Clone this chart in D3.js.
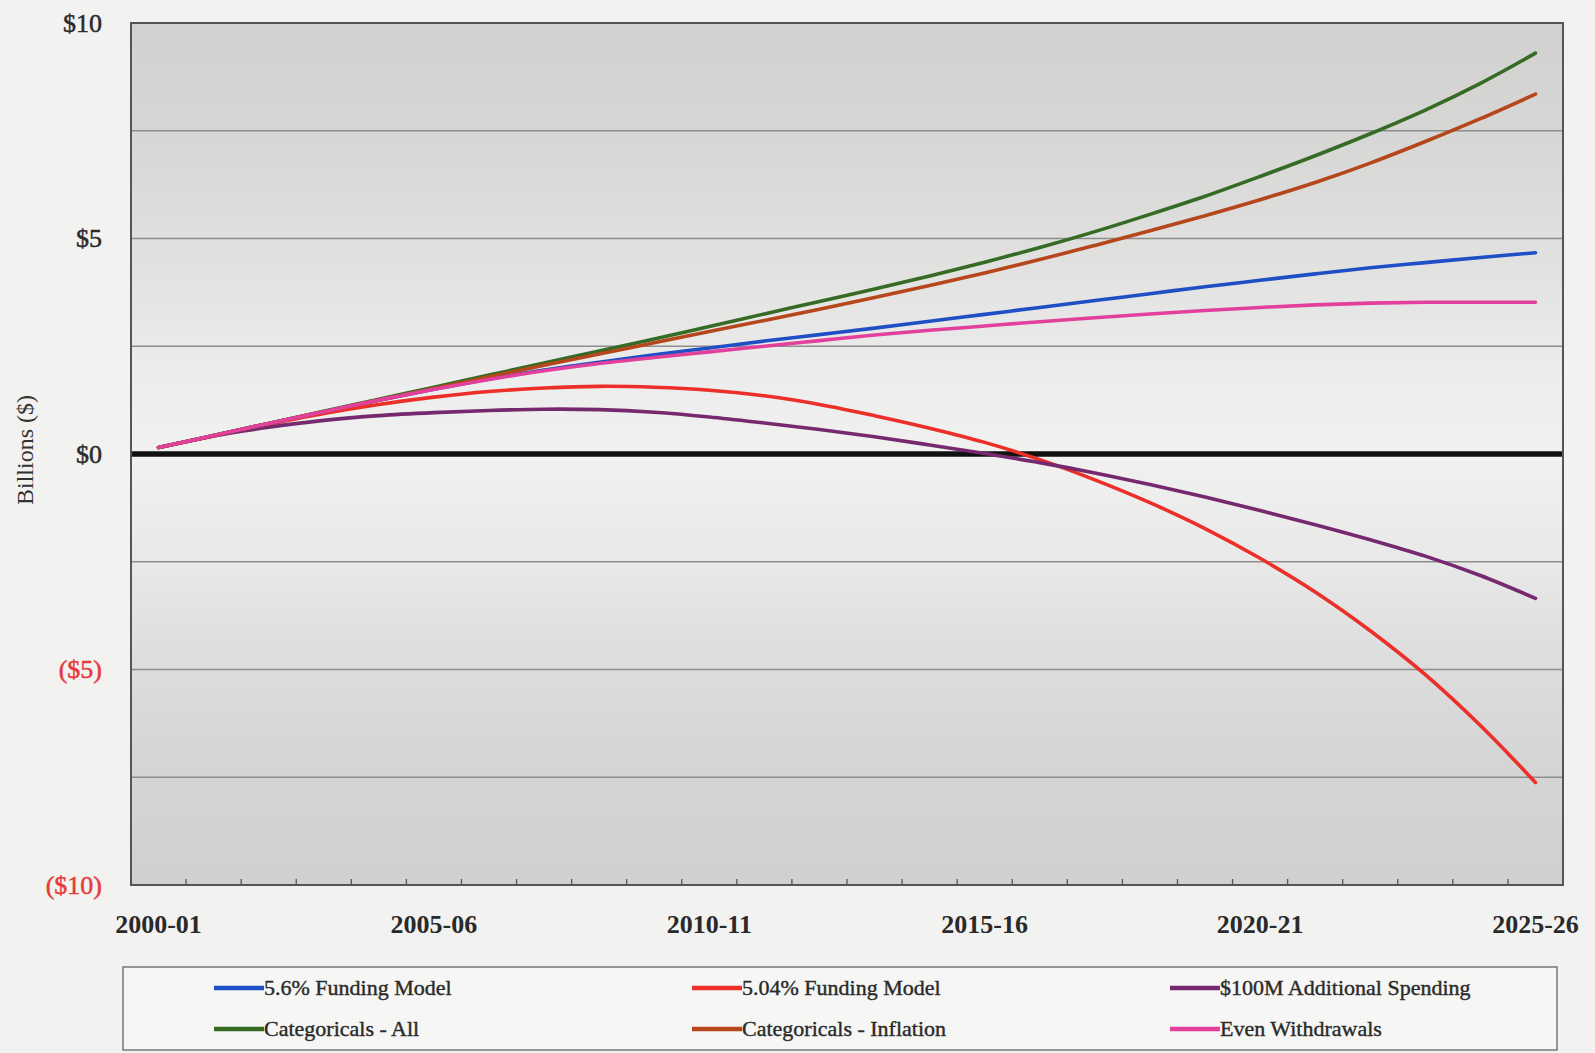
<!DOCTYPE html>
<html>
<head>
<meta charset="utf-8">
<script src="https://cdn.jsdelivr.net/npm/d3@7/dist/d3.min.js"></script>
<style>
  html, body { margin: 0; padding: 0; background: #f2f2f0; }
  svg { display: block; }
  text { font-family: "Liberation Serif", "Times New Roman", serif; }
</style>
</head>
<body>
<svg id="chart" width="1595" height="1053"></svg>
<script>
// Fiscal years shown on the horizontal axis
const years = ["2000-01","2001-02","2002-03","2003-04","2004-05","2005-06","2006-07","2007-08",
  "2008-09","2009-10","2010-11","2011-12","2012-13","2013-14","2014-15","2015-16","2016-17",
  "2017-18","2018-19","2019-20","2020-21","2021-22","2022-23","2023-24","2024-25","2025-26"];
const labeledYears = ["2000-01","2005-06","2010-11","2015-16","2020-21","2025-26"];

// Projected balance, billions of dollars
const funding56 = [0.15,0.43,0.71,0.98,1.25,1.50,1.74,1.95,2.13,2.30,2.46,2.62,2.77,2.92,3.08,3.24,3.40,3.56,3.72,3.88,4.03,4.18,4.32,4.44,4.56,4.67];
const funding504 = [0.15,0.42,0.69,0.94,1.15,1.32,1.45,1.53,1.57,1.55,1.48,1.35,1.15,0.89,0.60,0.27,-0.13,-0.60,-1.13,-1.73,-2.42,-3.20,-4.10,-5.12,-6.30,-7.62];
const additional100M = [0.15,0.42,0.62,0.78,0.89,0.96,1.01,1.04,1.03,0.97,0.86,0.72,0.57,0.40,0.21,0.01,-0.20,-0.44,-0.71,-1.00,-1.31,-1.64,-1.99,-2.37,-2.82,-3.35];
const categoricalsAll = [0.15,0.43,0.71,0.99,1.27,1.55,1.83,2.11,2.39,2.67,2.96,3.25,3.54,3.83,4.13,4.45,4.79,5.16,5.56,5.98,6.44,6.92,7.43,7.98,8.60,9.30];
const categoricalsInflation = [0.15,0.43,0.71,0.98,1.25,1.52,1.79,2.06,2.32,2.58,2.84,3.10,3.36,3.63,3.91,4.20,4.51,4.84,5.18,5.53,5.90,6.30,6.75,7.25,7.78,8.35];
const evenWithdrawals = [0.15,0.43,0.71,0.98,1.25,1.50,1.73,1.93,2.10,2.24,2.37,2.50,2.63,2.76,2.87,2.97,3.07,3.16,3.25,3.33,3.40,3.46,3.50,3.52,3.52,3.52];

const seriesNames = ["5.6% Funding Model","5.04% Funding Model","$100M Additional Spending",
  "Categoricals - All","Categoricals - Inflation","Even Withdrawals"];
const seriesValues = [funding56, funding504, additional100M, categoricalsAll, categoricalsInflation, evenWithdrawals];
const seriesColors = ["#1f4fc4","#ec2f28","#76296f","#356b25","#b6461c","#e2409c"];

const yTickValues = [-10,-5,0,5,10];
const yTickLabels = ["($10)","($5)","$0","$5","$10"];
const gridValues = [-7.5,-5,-2.5,2.5,5,7.5];

const svg = d3.select("#chart");
const plotLeft = 131, plotRight = 1563, plotTop = 23, plotBottom = 885;

const x = d3.scaleBand().domain(years).range([plotLeft, plotRight]).padding(0);
const y = d3.scaleLinear().domain([-10, 10]).range([plotBottom, plotTop]);
const cx = d => x(d) + x.bandwidth() / 2;

// Plot-area shading: darker toward top and bottom, lightest around zero
const defs = svg.append("defs");
const grad = defs.append("linearGradient").attr("id", "plotBg")
  .attr("x1", 0).attr("y1", 0).attr("x2", 0).attr("y2", 1);
[[0,"#d1d2d0"],[0.14,"#d7d8d6"],[0.27,"#e0e1df"],[0.40,"#ebeceb"],[0.5,"#f1f1f0"],
 [0.62,"#e9e9e9"],[0.74,"#dcdddc"],[0.86,"#d4d5d4"],[1,"#cfd0cf"]]
  .forEach(([o,c]) => grad.append("stop").attr("offset", o).attr("stop-color", c));

svg.append("rect")
  .attr("x", plotLeft).attr("y", plotTop)
  .attr("width", plotRight - plotLeft).attr("height", plotBottom - plotTop)
  .attr("fill", "url(#plotBg)");

// Horizontal gridlines
svg.append("g").selectAll("line").data(gridValues).join("line")
  .attr("x1", plotLeft).attr("x2", plotRight)
  .attr("y1", d => y(d)).attr("y2", d => y(d))
  .attr("stroke", "#8d8d8d").attr("stroke-width", 1.3);

// Tick marks at category boundaries along the bottom edge
svg.append("g").selectAll("line").data(years.slice(1)).join("line")
  .attr("x1", d => x(d)).attr("x2", d => x(d))
  .attr("y1", plotBottom).attr("y2", plotBottom - 6)
  .attr("stroke", "#555").attr("stroke-width", 1.3);

// Zero line
svg.append("line")
  .attr("x1", plotLeft).attr("x2", plotRight)
  .attr("y1", y(0)).attr("y2", y(0))
  .attr("stroke", "#111").attr("stroke-width", 5.5);

// Plot border
svg.append("rect")
  .attr("x", plotLeft).attr("y", plotTop)
  .attr("width", plotRight - plotLeft).attr("height", plotBottom - plotTop)
  .attr("fill", "none").attr("stroke", "#555").attr("stroke-width", 2);

// Series lines
const line = d3.line()
  .x((d, i) => cx(years[i]))
  .y(d => y(d))
  .curve(d3.curveCatmullRom.alpha(0.5));

svg.append("g").selectAll("path").data(seriesValues).join("path")
  .attr("d", d => line(d))
  .attr("fill", "none")
  .attr("stroke", (d, i) => seriesColors[i])
  .attr("stroke-width", 3.6)
  .attr("stroke-linejoin", "round")
  .attr("stroke-linecap", "round");

// Y axis labels
const yAxis = d3.axisLeft(y)
  .tickValues(yTickValues)
  .tickFormat(d => yTickLabels[yTickValues.indexOf(d)])
  .tickSize(0).tickPadding(29);
const yg = svg.append("g").attr("transform", `translate(${plotLeft},0)`).call(yAxis);
yg.select(".domain").remove();
yg.selectAll("text")
  .style("font-family", "'Liberation Serif', serif")
  .style("font-size", "26px")
  .attr("fill", d => d < 0 ? "#e8393a" : "#2a2a2a")
  .attr("stroke", d => d < 0 ? "#e8393a" : "#2a2a2a")
  .attr("stroke-width", 0.5);

// X axis labels
const xAxis = d3.axisBottom(x).tickValues(labeledYears).tickSize(0).tickPadding(30);
const xg = svg.append("g").attr("transform", `translate(0,${plotBottom})`).call(xAxis);
xg.select(".domain").remove();
xg.selectAll("text")
  .style("font-family", "'Liberation Serif', serif")
  .style("font-size", "26px")
  .style("font-weight", "bold")
  .attr("fill", "#2a2a2a");

// Y axis title
svg.append("text")
  .attr("transform", "translate(33,450) rotate(-90)")
  .attr("text-anchor", "middle")
  .style("font-size", "24px")
  .attr("fill", "#333")
  .text("Billions ($)");

// Legend
const legend = svg.append("g");
legend.append("rect")
  .attr("x", 123).attr("y", 967).attr("width", 1434).attr("height", 83)
  .attr("fill", "#f6f6f4").attr("stroke", "#777").attr("stroke-width", 1.5);
const colX = [214, 692, 1170];
const rowY = [988, 1029];
seriesNames.forEach((name, i) => {
  const gx = colX[i % 3], gy = rowY[Math.floor(i / 3)];
  legend.append("line")
    .attr("x1", gx).attr("x2", gx + 50).attr("y1", gy).attr("y2", gy)
    .attr("stroke", seriesColors[i]).attr("stroke-width", 4.5);
  legend.append("text")
    .attr("x", gx + 50).attr("y", gy + 7)
    .style("font-size", "22px")
    .attr("fill", "#2a2a2a")
    .attr("stroke", "#2a2a2a")
    .attr("stroke-width", 0.4)
    .text(name);
});
</script>
</body>
</html>
